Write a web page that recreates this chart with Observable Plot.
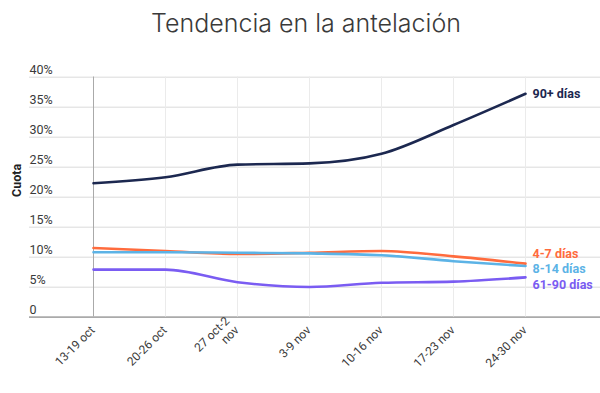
<!DOCTYPE html>
<html><head><meta charset="utf-8">
<script src="https://cdn.jsdelivr.net/npm/d3@7"></script>
<script src="https://cdn.jsdelivr.net/npm/@observablehq/plot@0.6"></script>
<style>
body{margin:0;background:#fff;font-family:Roboto,sans-serif;}
#title{height:50px;width:600px;text-align:center;font-family:Inter,"Noto Sans",sans-serif;font-weight:300;font-size:25px;color:#3a3a3a;line-height:46px;padding-left:12px;box-sizing:border-box;}
</style></head><body>
<div id="title">Tendencia en la antelación</div>
<div id="chart"></div>
<script>
const weeks = ["13-19 oct","20-26 oct","27 oct-2 nov","3-9 nov","10-16 nov","17-23 nov","24-30 nov"];
const weekLabels = ["13-19 oct","20-26 oct","27 oct-2\nnov","3-9 nov","10-16 nov","17-23 nov","24-30 nov"];
const seriesNames = ["90+ días","4-7 días","8-14 días","61-90 días"];
const s90plus = [22.3, 23.3, 25.4, 25.6, 27.2, 32.0, 37.2];
const s4to7   = [11.5, 11.0, 10.5, 10.7, 11.0, 10.1, 8.9];
const s8to14  = [10.8, 10.8, 10.7, 10.6, 10.3, 9.3, 8.5];
const s61to90 = [7.9, 7.9, 5.8, 5.0, 5.7, 5.9, 6.6];
const yTicks = [0,5,10,15,20,25,30,35,40];

const colors = ["#1c2850","#ff6b3d","#5cb3e6","#7a5cf2"];
const labelDy = [0, -10, 3, 8];
const allSeries = [s90plus, s4to7, s8to14, s61to90];
const rows = [];
allSeries.forEach((vals, i) => vals.forEach((v, j) => rows.push({series: seriesNames[i], week: weeks[j], value: v})));
const last = weeks.length - 1;
const labelMarks = seriesNames.map((n, i) =>
  Plot.text([{series: n, week: weeks[last], value: allSeries[i][last]}], {
    x: "week", y: "value", text: "series", fill: colors[i], dy: labelDy[i], dx: 7,
    textAnchor: "start", fontWeight: "bold", fontSize: 12.5
  }));

const chart = Plot.plot({
  width: 600, height: 343,
  marginTop: 26.5, marginBottom: 76.5, marginLeft: 93, marginRight: 75,
  style: {fontFamily: "Roboto, sans-serif", overflow: "visible"},
  x: {type: "point", domain: weeks, padding: 0, axis: null},
  y: {domain: [0, 40], axis: null},
  color: {domain: seriesNames, range: colors},
  marks: [
    Plot.ruleY(yTicks, {y: d => d, stroke: d => d === 0 ? "#aaaaaa" : "#e6e6e6", strokeWidth: 1, insetLeft: -64, insetRight: -75}),
    Plot.ruleX(weeks.slice(1), {x: d => d, y1: 0, y2: 40, stroke: "#ebebeb", strokeWidth: 1}),
    Plot.ruleX([weeks[0]], {x: d => d, y1: 0, y2: 40, stroke: "#aaaaaa", strokeWidth: 1}),
    Plot.text(yTicks, {y: d => d, text: d => d === 0 ? "0" : d + "%", frameAnchor: "left", textAnchor: "start", dx: -64, dy: -7, fontSize: 12.5, fill: "#3a3a3a"}),
    Plot.lineY(rows, {x: "week", y: "value", stroke: "series", strokeWidth: 2.6, curve: "monotone-x"}),
    ...labelMarks,
    Plot.text(weeks, {x: d => d, text: (d, i) => weekLabels[i], frameAnchor: "bottom", textAnchor: "end", rotate: -45, dy: 14, dx: 2, fontSize: 12, fill: "#3a3a3a", lineHeight: 1.1}),
    Plot.text(["Cuota"], {text: d => d, frameAnchor: "left", dx: -77, rotate: -90, fontWeight: "bold", fontSize: 12.5, fill: "#222"})
  ]
});
// full-width horizontal grid bands, positioned through Plot's own y scale
const yScale = chart.scale("y");
const grid = d3.select(chart).insert("g", "g").attr("class", "hgrid");
grid.selectAll("rect").data(yTicks).join("rect")
  .attr("x", 29).attr("width", 571)
  .attr("y", d => Math.round(yScale.apply(d)) - (d === 0 ? 0.5 : 0))
  .attr("height", d => d === 0 ? 1.5 : 1)
  .attr("fill", d => d === 0 ? "#aaaaaa" : "#e6e6e6");
document.getElementById("chart").appendChild(chart);
</script>
</body></html>
